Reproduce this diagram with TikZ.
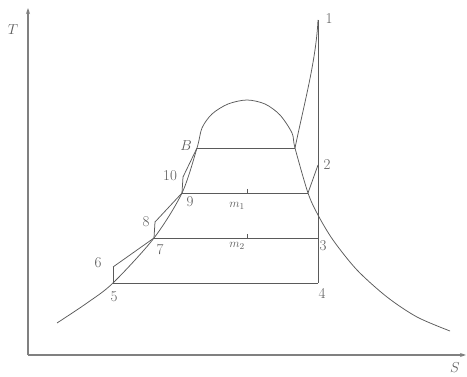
\documentclass[tikz,border=0pt]{standalone}
\usetikzlibrary{arrows.meta}
\definecolor{ink}{HTML}{5A5A5A}
\definecolor{axisgray}{HTML}{808080}

\begin{document}
\begin{tikzpicture}[x=1pt,y=-1pt,color=ink,line width=0.75pt,
  lbl/.style={font=\fontsize{15}{17}\selectfont,inner sep=1pt},
  ax/.style={-{Stealth[length=6pt,width=4pt]},line width=1.3pt,draw=axisgray}]
\useasboundingbox (0,0) rectangle (467,377);
% axes
\coordinate (o) at (28,355);
\coordinate (ty) at (28,8);
\coordinate (sx) at (466,355);
\draw[ax] (o)--(ty);
\draw[ax] (o)--(sx);
\node[lbl] (tl) at (13,30) {$T$};
\node[lbl] (sl) at (455,368) {$S$};
% cycle points
\coordinate (p1) at (318,20);
\coordinate (p2) at (318,165);
\coordinate (p3) at (318,238);
\coordinate (p4) at (318,283);
\coordinate (p5) at (113,283);
\coordinate (p6) at (113,267);
\coordinate (p7) at (154,238);
\coordinate (p8) at (155,222);
\coordinate (p9) at (182,193);
\coordinate (p10) at (183,177);
\coordinate (pB) at (197,148);
\coordinate (pC) at (295,148);
\coordinate (pD) at (308,193);
% saturation curve
\draw plot[smooth,tension=0.5] coordinates {(57,323) (87,303) (p5) (p7) (p9) (pB) (202,128) (212,114) (228,104) (247,100) (265,104) (280,115) (292,133) (pC) (pD) (318,215) (333,240) (357,270) (387,297) (417,317) (450,331)};
% isobars
\draw (pB)--(pC);
\draw (p9)--(pD);
\draw (p7)--(p3);
\draw (p5)--(p4);
\draw (p1)--(p4);
\draw (pC) .. controls (305,100) and (316,60) .. (p1);
\draw (p2)--(pD);
% pumps and heaters
\foreach \a/\b in {p5/p6,p6/p7,p7/p8,p8/p9,p9/p10,p10/pB}{\draw (\a)--(\b);}
\draw[line width=0.5pt] (247,189)--(247,193) (247,234)--(247,238);
% labels
\node[lbl] (l1) at (329,19) {1};
\node[lbl] (l2) at (327,165) {2};
\node[lbl] (l3) at (323,246) {3};
\node[lbl] (l4) at (322,293) {4};
\node[lbl] (l5) at (114,297) {5};
\node[lbl] (l6) at (98,263) {6};
\node[lbl] (l7) at (160,250) {7};
\node[lbl] (l8) at (146,222) {8};
\node[lbl] (l9) at (190,202) {9};
\node[lbl] (l10) at (170,176) {10};
\node[lbl] (lB) at (186,146) {$B$};
\node[lbl,font=\fontsize{13}{15}\selectfont] (m1) at (237,206) {$m_1$};
\node[lbl,font=\fontsize{13}{15}\selectfont] (m2) at (237,246) {$m_2$};
\end{tikzpicture}
\end{document}
